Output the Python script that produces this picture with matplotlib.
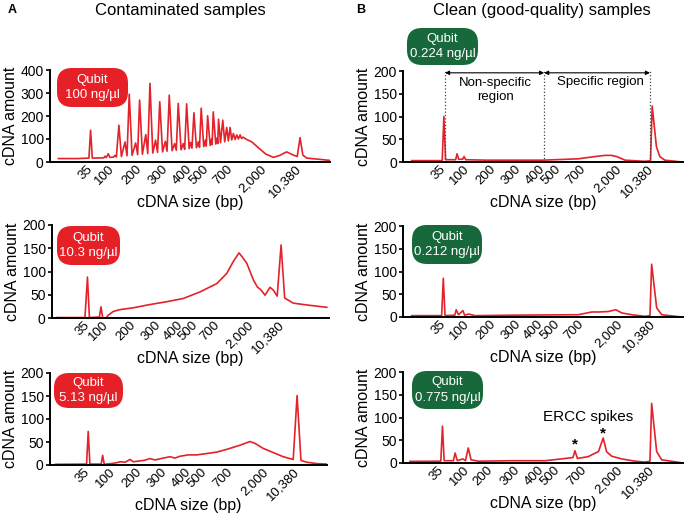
import matplotlib
matplotlib.use("Agg")
import matplotlib.pyplot as plt
from matplotlib.patches import FancyBboxPatch

plt.rcParams['font.family'] = ['Liberation Sans', 'DejaVu Sans']

# tick labels shared by all panels (bp sizes of the ladder)
size_labels = ['35', '100', '200', '300', '400', '500', '700', '2,000', '10,380']

# trace positions are in "migration" units 0-100 across each panel
a1_x = [3.0, 10, 13.9, 14.5, 15.1, 19.2, 19.6, 20.1, 20.8, 21.4, 22.7, 23.2, 23.7, 24.6, 25.5,
        26.8, 27.5, 28.3, 29.3, 30.6, 31.3, 32.0, 33.0, 34.2, 34.9, 35.7, 36.7, 37.7, 38.4,
        39.2, 40.2, 41.2, 41.8, 42.6, 43.6, 44.5, 45.1, 45.8, 46.8, 47.6, 48.1, 48.8, 49.7,
        50.2, 50.7, 51.4, 52.3, 53.0, 53.4, 54.0, 54.9, 55.5, 55.8, 56.3, 57.2, 57.7, 57.9,
        58.3, 59.2, 59.7, 59.9, 60.2, 60.9, 61.7, 62.4, 63.1, 63.7, 64.3, 64.9, 65.5, 66.1,
        66.7, 67.3, 67.9, 68.4, 69.0, 70.2, 72, 75, 77, 79.8, 82.1, 84.5, 86.9, 88.3, 89.3,
        90.3, 91.7, 95.2, 99.8]
a1_y = [15, 15, 17, 138, 17, 18, 25, 19, 36, 20, 21, 29, 22, 160, 24,
        87, 27, 295, 29, 83, 32, 269, 34, 119, 37, 342, 39, 95, 42,
        262, 44, 90, 47, 291, 49, 80, 51, 255, 53, 80, 55, 253, 58,
        85, 60, 214, 62, 88, 64, 234, 67, 95, 69, 201, 72, 100, 75,
        218, 78, 105, 80, 186, 84, 182, 88, 150, 92, 150, 96, 124, 98,
        118, 100, 118, 102, 108, 98, 88, 56, 35, 20, 29, 44, 30, 24, 106,
        30, 17, 13, 7]
a1_ticks = [14.5, 22.5, 32.0, 41.5, 50.0, 56.0, 64.6, 76.5, 89.0]

a2_x = [1.7, 11.9, 12.8, 13.5, 17.1, 17.7, 18.3, 19.5, 20.3, 22.1, 24.5, 29.4, 35.4, 41.4,
        47.4, 53.4, 59.5, 63.1, 65.5, 67.5, 68.2, 70.3, 72.7, 74.1, 75.5, 76.9, 78.7, 79.9,
        81.3, 82.7, 84.0, 87.1, 92.0, 99.2]
a2_y = [1, 1, 88, 1, 2, 24, 0, 0, 6, 14, 18, 22, 29, 35,
        42, 56, 74, 96, 122, 140, 135, 118, 82, 67, 60, 49, 66, 60,
        47, 157, 43, 32, 28, 23]
a2_ticks = [12.8, 19.8, 29.5, 38.5, 46.8, 51.8, 60.0, 72.0, 83.3]

a3_x = [2.0, 13.2, 13.8, 14.4, 18.5, 19.0, 19.6, 22, 24.1, 25.3, 27.1, 28.9, 30.1, 32.5, 34,
        36.1, 37.9, 40.9, 43.3, 45.1, 46.9, 49.9, 53.0, 56.6, 60.2, 63.8, 68.6, 72.2, 74.0,
        77.0, 80.6, 84.2, 86.6, 87.8, 89.2, 90.6, 92.7, 96.3, 99.9]
a3_y = [1.5, 2, 73, 2, 2, 21, 1.5, 3, 5, 7, 6, 12, 7, 9, 10,
        14, 11, 15, 18, 15, 19, 22, 22, 25, 28, 34, 43, 51, 47,
        36, 27, 18, 14, 12, 151, 10, 6, 3, 2]
a3_ticks = [13.8, 22.8, 32.3, 41.6, 50.3, 56.0, 65.2, 78.0, 89.2]

b1_x = [3.1, 14.0, 14.6, 15.2, 18.8, 19.3, 19.9, 21.3, 21.8, 22.4, 30, 50, 62.6, 68.6, 72.1,
        74.5, 76.3, 79.3, 86.4, 88.4, 89.0, 90.5, 91.7, 93.5, 99.7]
b1_y = [3, 3, 100, 5, 5, 18, 6, 6, 12, 5, 4, 4, 7, 12, 14.5,
        14.5, 12, 4, 1.5, 3, 123, 34, 12, 4, 0]
b1_ticks = [14.4, 23.0, 32.6, 41.5, 50.0, 55.8, 64.7, 77.2, 88.6]
b1_bounds = [15.0, 50.4, 88.2]

b2_x = [3.1, 13.8, 14.4, 15.0, 18.5, 19.0, 19.8, 21.4, 22.0, 23.4, 25.7, 38.8, 62.6, 67.4,
        69.8, 73.3, 76.0, 78.1, 81.7, 86.4, 88.2, 88.8, 90.6, 92.4, 99.5]
b2_y = [3, 3, 85, 3, 4, 16, 5, 14, 4, 6.5, 3, 4, 5, 11,
        11, 12, 16, 9, 5, 1.5, 3, 116, 20, 5, 0]
b2_ticks = [14.4, 23.0, 32.5, 41.5, 49.5, 55.3, 63.8, 77.8, 89.5]

b3_x = [2.5, 13.5, 14.1, 14.7, 18.0, 18.6, 19.4, 21.4, 22.3, 23.3, 24.3, 26.9, 38.8, 50.7,
        56.6, 60.7, 61.4, 62.3, 66.2, 67.4, 69.8, 71.5, 72.7, 74.5, 78.1, 82.9, 86.4, 88.2,
        88.8, 90.6, 92.4, 99.0]
b3_y = [3.6, 4, 81, 5, 5, 22, 5, 9, 5, 33, 7, 4, 5, 5,
        9, 12, 27, 10, 14, 18, 25, 55, 25, 15, 9, 4, 2, 4,
        131, 25, 7, 1]
b3_ticks = [14.0, 23.0, 31.5, 41.0, 49.8, 55.3, 64.8, 77.8, 89.2]

qubit_text = ['100 ng/µl', '10.3 ng/µl', '5.13 ng/µl', '0.224 ng/µl', '0.212 ng/µl', '0.775 ng/µl']

RED = '#e3222a'
BADGE_RED = '#e52127'
BADGE_GREEN = '#17693b'
W, H = 685, 518

fig = plt.figure(figsize=(6.85, 5.18), dpi=100)


def add_axes(x0, x1, y_top, y_bot):
    return fig.add_axes([x0 / W, 1 - y_bot / H, (x1 - x0) / W, (y_bot - y_top) / H])


def draw_panel(ax, x, y, ticks, ymax, ystep):
    ax.plot(x, y, color=RED, lw=1.2)
    ax.set_xlim(0, 100)
    ax.set_ylim(0, ymax)
    ax.set_yticks(range(0, ymax + 1, ystep))
    ax.set_xticks(ticks)
    ax.set_xticklabels(size_labels, rotation=45, ha='right', va='center',
                       rotation_mode='anchor', fontsize=9.5)
    ax.tick_params(axis='x', length=0, pad=4)
    ax.tick_params(axis='y', length=3, width=1.2, labelsize=10, pad=1.5)
    for s in ['top', 'right']:
        ax.spines[s].set_visible(False)
    for s in ['left', 'bottom']:
        ax.spines[s].set_linewidth(1.4)
    ax.set_xlabel('cDNA size (bp)', fontsize=11.5)
    # label sits between the slanted tick labels, as in the original layout
    ax.xaxis.set_label_coords(0.5, -33 / (ax.bbox.height))
    ax.set_ylabel('cDNA amount', fontsize=11.5, labelpad=2)


def badge(x0, x1, y0, y1, color, text):
    fig.patches.append(FancyBboxPatch(
        (x0 / 100, (H - y1) / 100), (x1 - x0) / 100, (y1 - y0) / 100,
        boxstyle='round,pad=0,rounding_size=0.15', transform=fig.dpi_scale_trans,
        fc=color, ec='none', zorder=5))
    fig.text((x0 + x1) / 2 / W, 1 - (y0 + y1) / 2 / H, 'Qubit\n' + text, color='white',
             ha='center', va='center', fontsize=9.5, linespacing=1.35, zorder=6)


ax1 = add_axes(50, 330, 70, 162)
ax2 = add_axes(52, 329, 225, 318)
ax3 = add_axes(50, 327, 373, 465)
bx1 = add_axes(403, 683, 71, 162)
bx2 = add_axes(403, 683, 226, 317)
bx3 = add_axes(403, 683, 372, 463)

draw_panel(ax1, a1_x, a1_y, a1_ticks, 400, 100)
draw_panel(ax2, a2_x, a2_y, a2_ticks, 200, 50)
draw_panel(ax3, a3_x, a3_y, a3_ticks, 200, 50)
draw_panel(bx1, b1_x, b1_y, b1_ticks, 200, 50)
draw_panel(bx2, b2_x, b2_y, b2_ticks, 200, 50)
draw_panel(bx3, b3_x, b3_y, b3_ticks, 200, 50)

# regions in the first clean sample
bx1.vlines(b1_bounds, 0, 200, colors='#444444', linestyles=':', lw=0.9)
for xa, xb in [(b1_bounds[0], b1_bounds[1]), (b1_bounds[1], b1_bounds[2])]:
    bx1.annotate('', xy=(xb, 196), xytext=(xa, 196),
                 arrowprops=dict(arrowstyle='<|-|>', color='black', lw=0.8,
                                 mutation_scale=6, shrinkA=0, shrinkB=0))
bx1.text(32.9, 159, 'Non-specific\nregion', ha='center', va='center', fontsize=9.5,
         linespacing=1.2)
bx1.text(70.4, 176, 'Specific region', ha='center', va='center', fontsize=9.5)

# ERCC spikes
bx3.text(66.2, 100, 'ERCC spikes', ha='center', va='center', fontsize=11)
bx3.text(61.5, 40, '*', ha='center', va='center', fontsize=11, fontweight='bold')
bx3.text(71.5, 64, '*', ha='center', va='center', fontsize=11, fontweight='bold')

badge(57, 128, 68, 107, BADGE_RED, qubit_text[0])
badge(57, 120, 226, 265, BADGE_RED, qubit_text[1])
badge(54, 123, 373, 408, BADGE_RED, qubit_text[2])
badge(407, 478, 28, 65, BADGE_GREEN, qubit_text[3])
badge(412, 482, 225, 264, BADGE_GREEN, qubit_text[4])
badge(412, 483, 371, 409, BADGE_GREEN, qubit_text[5])

fig.text(180 / W, 1 - 11 / H, 'Contaminated samples', ha='center', va='center', fontsize=12)
fig.text(542 / W, 1 - 11 / H, 'Clean (good-quality) samples', ha='center', va='center', fontsize=12)
fig.text(8 / W, 1 - 10 / H, 'A', ha='left', va='center', fontsize=9, fontweight='bold')
fig.text(356 / W, 1 - 10 / H, 'B', ha='left', va='center', fontsize=9, fontweight='bold')

fig.savefig('out.png', dpi=100)
